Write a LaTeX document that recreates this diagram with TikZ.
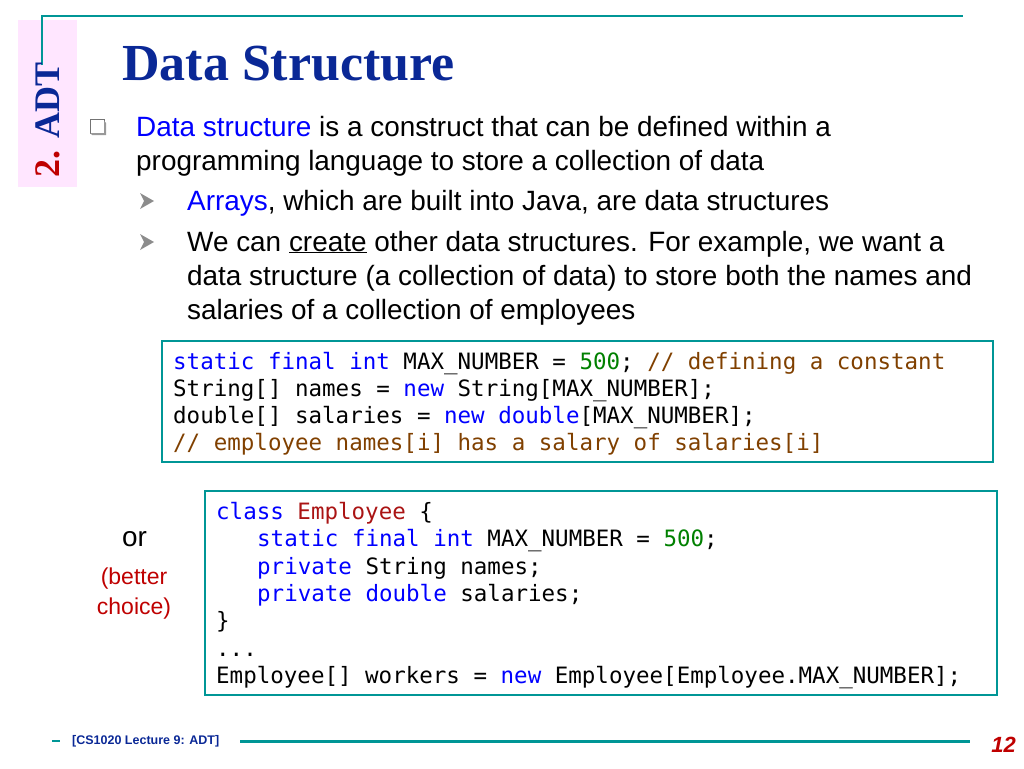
\documentclass[tikz,border=0pt]{standalone}
\usepackage{fontspec}
\setmainfont{Liberation Sans}
\setmonofont{DejaVu Sans Mono}
\newfontfamily\titlefont{Liberation Serif}
\usetikzlibrary{positioning}
\definecolor{slideteal}{RGB}{0,150,150}
\definecolor{titleblue}{RGB}{10,40,150}
\definecolor{kwblue}{RGB}{0,0,255}
\definecolor{numgreen}{RGB}{0,128,0}
\definecolor{cmtbrown}{RGB}{128,64,0}
\definecolor{clsred}{RGB}{170,20,20}
\definecolor{sidepink}{RGB}{255,230,255}
\newcommand{\kw}[1]{\textcolor{kwblue}{#1}}
\newcommand{\nm}[1]{\textcolor{numgreen}{#1}}
\newcommand{\cmt}[1]{\textcolor{cmtbrown}{#1}}
\newcommand{\Arrowmark}[1]{\fill[black!45] (#1) ++(-7,-8) -- ++(14,8) -- ++(-14,8) -- ++(4,-8) -- cycle;}
\tikzset{
  body/.style={anchor=base west, inner sep=0pt, font=\fontsize{27.9}{30}\selectfont},
  code/.style={anchor=base west, inner sep=0pt, font=\fontsize{22.5}{27}\selectfont\ttfamily},
  codebox/.style={draw=slideteal, line width=1.2pt},
}
\begin{document}
\begin{tikzpicture}[x=1pt,y=-1pt]
  \useasboundingbox (0,0) rectangle (1024,768);
  % side tab and frame line
  \fill[sidepink] (18,20) rectangle (77,187);
  \draw[slideteal, line width=1.2pt] (42,65) -- (42,16) -- (963,16);
  \node[rotate=90, inner sep=0pt, font=\titlefont\bfseries\fontsize{36}{36}\selectfont] (tab) at (48,120)
    {\textcolor{red!75!black}{2.} \textcolor{titleblue}{ADT}};
  \node[anchor=base west, inner sep=0pt, text=titleblue, font=\titlefont\bfseries\fontsize{52}{52}\selectfont] (title) at (122,80) {Data Structure};
  % bullets
  \draw[black!55, fill=white, line width=1pt] (90,119) rectangle (104,133);
  \fill[black!40] (104,121) -- (106,123) -- (106,135) -- (92,135) -- (90,133) -- (104,133) -- cycle;
  \node[body] (l1) at (136,136) {\textcolor{kwblue}{Data structure} is a construct that can be defined within a};
  \node[body] (l2) at (136,170) {programming language to store a collection of data};
  \Arrowmark{147,201}
  \Arrowmark{147,242}
  \node[body] (l3) at (187,210) {\textcolor{kwblue}{Arrays}, which are built into Java, are data structures};
  \node[body] (l4) at (187,251) {We can \underline{create} other data structures. For example, we want a};
  \node[body] (l5) at (187,285) {data structure (a collection of data) to store both the names and};
  \node[body] (l6) at (187,319) {salaries of a collection of employees};
  % first code box
  \draw[codebox] (162,341) rectangle (993,462);
  \node[code] (c1) at (173,369) {\kw{static final int} MAX\_NUMBER = \nm{500}; \cmt{// defining a constant}};
  \node[code] (c2) at (173,396) {String[] names = \kw{new} String[MAX\_NUMBER];};
  \node[code] (c3) at (173,423) {double[] salaries = \kw{new double}[MAX\_NUMBER];};
  \node[code] (c4) at (173,450) {\cmt{// employee names[i] has a salary of salaries[i]}};
  % second code box
  \draw[codebox] (205,491) rectangle (997,695);
  \node[code] (d1) at (216,519) {\kw{class} \textcolor{clsred}{Employee} \{};
  \node[code] (d2) at (257,546) {\kw{static final int} MAX\_NUMBER = \nm{500};};
  \node[code] (d3) at (257,574) {\kw{private} String names;};
  \node[code] (d4) at (257,601) {\kw{private double} salaries;};
  \node[code] (d5) at (216,628) {\}};
  \node[code] (d6) at (216,656) {...};
  \node[code] (d7) at (216,683) {Employee[] workers = \kw{new} Employee[Employee.MAX\_NUMBER];};
  % side remark
  \node[body] (or) at (122,546) {or};
  \node[inner sep=0pt, align=center, text=red!75!black, font=\fontsize{23}{30}\selectfont] (better) at (134,594) {(better\\ choice)};
  % footer
  \draw[slideteal, line width=2pt] (52,741) -- (60,741);
  \node[anchor=west, inner sep=0pt, text=titleblue, font=\bfseries\fontsize{12.5}{12.5}\selectfont] (foot) at (72,741) {[CS1020 Lecture 9: ADT]};
  \draw[slideteal, line width=3pt] (240,741) -- (970,741);
  \node[anchor=east, inner sep=0pt, text=red!75!black, font=\bfseries\itshape\fontsize{22}{22}\selectfont] (page) at (1016,745) {12};
\end{tikzpicture}
\end{document}
